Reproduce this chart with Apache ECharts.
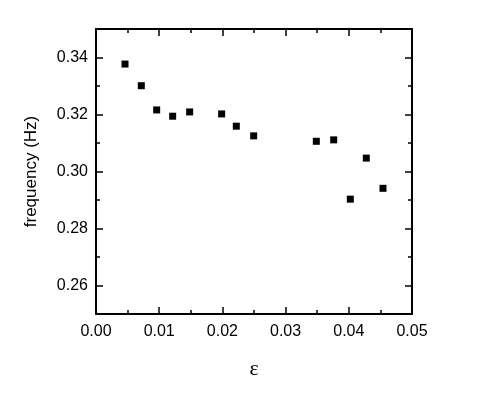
<!DOCTYPE html>
<html><head><meta charset="utf-8">
<script src="https://cdn.jsdelivr.net/npm/echarts@6/dist/echarts.min.js"></script>
<style>html,body{margin:0;padding:0;background:#fff}#c{width:485px;height:413px}</style>
</head><body><div id="c"></div>
<script>
const epsilon = [0.00459, 0.00717, 0.0096, 0.01213, 0.01482, 0.01988, 0.0222, 0.02495, 0.03486, 0.03761, 0.04024, 0.04277, 0.04541];
const frequency = [0.3377, 0.3301, 0.3216, 0.3194, 0.3209, 0.3202, 0.3159, 0.3125, 0.3106, 0.3111, 0.2903, 0.3047, 0.2941];
const xTicks = [0.00, 0.01, 0.02, 0.03, 0.04, 0.05];
const xMinorTicks = [0.005, 0.015, 0.025, 0.035, 0.045];
const yTicks = [0.26, 0.28, 0.30, 0.32, 0.34];
const yMinorTicks = [0.27, 0.29, 0.31, 0.33];

const points = epsilon.map((e, i) => [e, frequency[i]]);
const font = 'Liberation Sans';
const tickStyle = {color: '#000', width: 1.5};

function xAxis(pos, values, len, withLabels, withLine) {
  return {
    type: 'value', min: 0, max: 0.05, interval: 0.01, position: pos,
    axisLine: {show: withLine, onZero: false, lineStyle: {color: '#000', width: 2}},
    axisTick: {show: true, inside: true, length: len, customValues: values, lineStyle: tickStyle},
    splitLine: {show: false},
    axisLabel: withLabels ? {color: '#000', fontSize: 16, fontFamily: font, margin: 10,
      customValues: xTicks, formatter: v => v.toFixed(2)} : {show: false}
  };
}
function yAxis(pos, values, len, withLabels, withLine) {
  return {
    type: 'value', min: 0.25, max: 0.35, interval: 0.01, position: pos,
    axisLine: {show: withLine, onZero: false, lineStyle: {color: '#000', width: 2}},
    axisTick: {show: true, inside: true, length: len, customValues: values, lineStyle: tickStyle},
    splitLine: {show: false},
    axisLabel: withLabels ? {color: '#000', fontSize: 16, fontFamily: font, margin: 8,
      customValues: yTicks, formatter: v => v.toFixed(2)} : {show: false}
  };
}

const xb = xAxis('bottom', xTicks, 7, true, true);
xb.name = 'ε'; xb.nameLocation = 'middle'; xb.nameGap = 44;
xb.nameTextStyle = {color: '#000', fontSize: 22, fontFamily: 'Liberation Serif'};
const yl = yAxis('left', yTicks, 7, true, true);
yl.name = 'frequency (Hz)'; yl.nameLocation = 'middle'; yl.nameGap = 56;
yl.nameTextStyle = {color: '#000', fontSize: 17, fontFamily: font};

const chart = echarts.init(document.getElementById('c'), null, {renderer: 'canvas'});
chart.setOption({
  animation: false,
  backgroundColor: '#fff',
  grid: {left: 96, right: 73, top: 29, bottom: 99},
  xAxis: [
    xb,
    xAxis('bottom', xMinorTicks, 4, false, false),
    xAxis('top', xTicks, 7, false, true),
    xAxis('top', xMinorTicks, 4, false, false)
  ],
  yAxis: [
    yl,
    yAxis('left', yMinorTicks, 4, false, false),
    yAxis('right', yTicks, 7, false, true),
    yAxis('right', yMinorTicks, 4, false, false)
  ],
  series: [{
    type: 'scatter', xAxisIndex: 0, yAxisIndex: 0,
    data: points, symbol: 'rect', symbolSize: 7,
    itemStyle: {color: '#000', opacity: 1}
  }]
});
</script></body></html>
